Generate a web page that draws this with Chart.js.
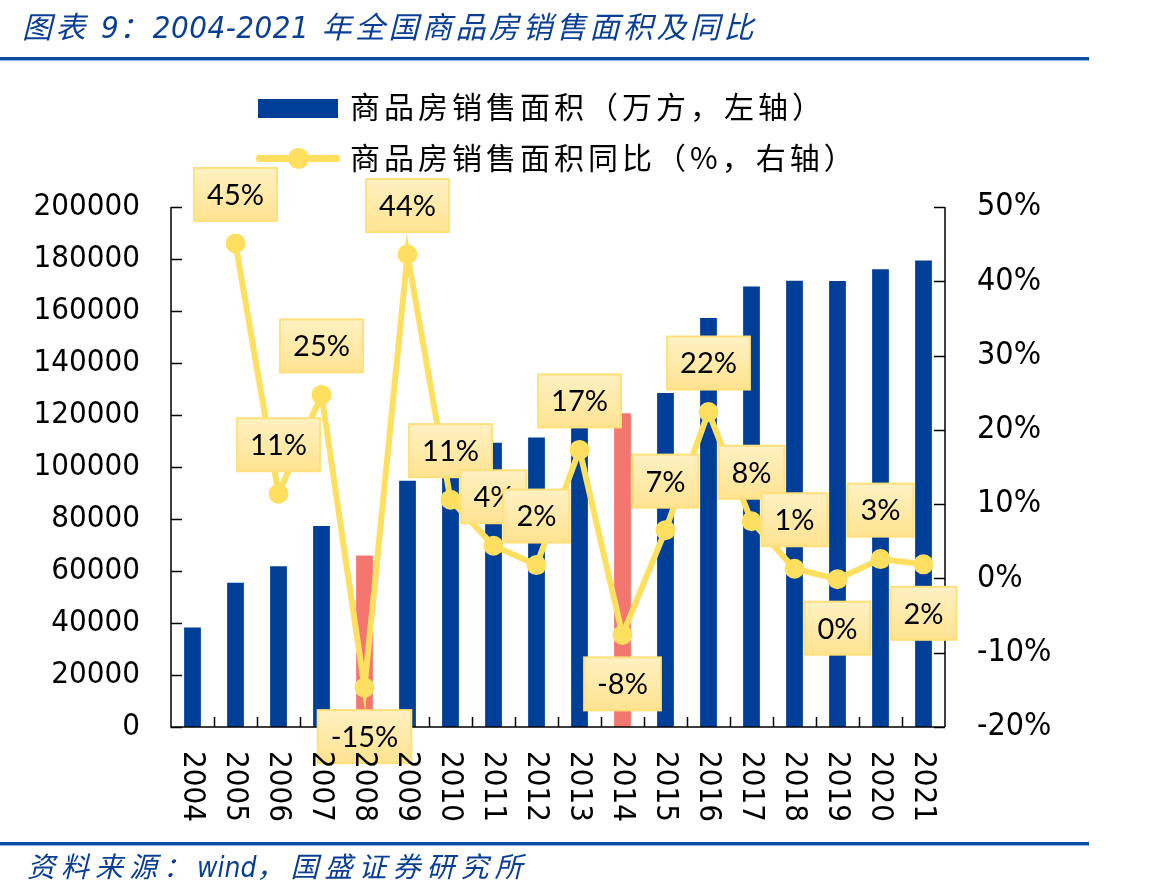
<!DOCTYPE html>
<html>
<head>
<meta charset="utf-8">
<script src="https://cdn.jsdelivr.net/npm/chart.js@4"></script>
<style>
  body { margin: 0; background: #fff; }
  #wrap { position: relative; width: 1170px; height: 895px; overflow: hidden; }
  #wrap canvas { position: absolute; left: 0; top: 0; }
  .title { position: absolute; left: 22px; top: 3px; font: italic 30px "DejaVu Sans Condensed", "Noto Sans CJK SC", sans-serif; color: #0B3F93; letter-spacing: 3.5px; white-space: nowrap; }
  .title .num { letter-spacing: 0.5px; font-size: 31px; }
  .rule { position: absolute; left: 0; width: 1089px; height: 3px; background: #0C4DA2; border-bottom: 1px solid #8FB0DC; }
  .source { position: absolute; left: 27px; top: 845px; font: italic 28px "Noto Sans CJK SC", sans-serif; color: #0B3F93; letter-spacing: 6px; white-space: nowrap; }
  .source .num { letter-spacing: 0; font-family: "DejaVu Sans Condensed", sans-serif; }
  .legend { position: absolute; left: 350px; font: 30px "Noto Sans CJK SC", sans-serif; color: #000; letter-spacing: 4px; white-space: nowrap; line-height: 1; }
  .lg-bar { position: absolute; left: 258px; top: 99px; width: 80px; height: 19px; background: #003F98; }
  .lg-line { position: absolute; left: 256px; top: 155px; width: 84px; height: 7px; background: #FFDF60; border-radius: 3px; }
  .lg-dot { position: absolute; left: 288px; top: 148px; width: 21px; height: 21px; border-radius: 50%; background: #FFDF60; }
</style>
</head>
<body>
<div id="wrap">
  <canvas id="chart" width="1170" height="895"></canvas>
  <div class="title">图表 <span class="num">9</span>：<span class="num">2004-2021</span> 年全国商品房销售面积及同比</div>
  <div class="rule" style="top:57px"></div>
  <div class="lg-bar"></div>
  <div class="legend" style="top:90px">商品房销售面积（万方，左轴）</div>
  <div class="lg-line"></div>
  <div class="lg-dot"></div>
  <div class="legend" style="top:141px">商品房销售面积同比（%，右轴）</div>
  <div class="rule" style="top:842px"></div>
  <div class="source">资料来源：<span class="num">wind</span>，国盛证券研究所</div>
</div>
<script>
// categories
var years = ['2004', '2005', '2006', '2007', '2008', '2009', '2010', '2011', '2012',
             '2013', '2014', '2015', '2016', '2017', '2018', '2019', '2020', '2021'];
// sales area, 10k sqm (left axis)
var salesArea = [38232, 55486, 61857, 77355, 65970, 94755, 104765, 109367, 111304,
                 130551, 120649, 128495, 157349, 169408, 171654, 171558, 176086, 179433];
// year on year, % (right axis)
var yoyValues = [null, 45.1, 11.4, 24.7, -14.7, 43.6, 10.6, 4.4, 1.8,
                 17.3, -7.6, 6.5, 22.4, 7.7, 1.3, -0.1, 2.6, 1.9];
// which side of the point each label sits
var labelSide = ['', 'up', 'up', 'up', 'down', 'up', 'up', 'up', 'up',
                 'up', 'down', 'up', 'up', 'up', 'up', 'down', 'up', 'down'];
// years whose bars are drawn in red
var redYears = ['2008', '2014'];
var leftTicks = [0, 20000, 40000, 60000, 80000, 100000, 120000, 140000, 160000, 180000, 200000];
var rightTicks = [-20, -10, 0, 10, 20, 30, 40, 50];

var blue = '#003F98';
var red = '#F4766F';
var yellow = '#FFDF60';
var tickFont = { family: '"DejaVu Sans Condensed", "DejaVu Sans", sans-serif', size: 31 };

var barColors = years.map(function (y) {
    return redYears.indexOf(y) >= 0 ? red : blue;
});

var overlay = {
    id: 'overlay',
    afterDatasetsDraw: function (chart) {
        var ctx = chart.ctx;
        var area = chart.chartArea;
        var x = chart.scales.x, y = chart.scales.y, y1 = chart.scales.y1;
        ctx.save();

        // axis lines + inward ticks
        ctx.strokeStyle = '#000';
        ctx.lineWidth = 1.5;
        ctx.beginPath();
        ctx.moveTo(area.left, area.top); ctx.lineTo(area.left, area.bottom); ctx.lineTo(area.right, area.bottom);
        ctx.moveTo(area.right, area.top); ctx.lineTo(area.right, area.bottom);
        leftTicks.forEach(function (v) {
            var py = Math.round(y.getPixelForValue(v)) + 0.5;
            ctx.moveTo(area.left, py); ctx.lineTo(area.left + 11, py);
        });
        rightTicks.forEach(function (v) {
            var py = Math.round(y1.getPixelForValue(v)) + 0.5;
            ctx.moveTo(area.right, py); ctx.lineTo(area.right - 11, py);
        });
        for (var i = 1; i < years.length; i++) {
            var px = Math.round((x.getPixelForValue(i - 1) + x.getPixelForValue(i)) / 2) + 0.5;
            ctx.moveTo(px, area.bottom); ctx.lineTo(px, area.bottom - 10);
        }
        ctx.stroke();

        // value boxes
        var meta = chart.getDatasetMeta(1);
        ctx.font = '29px Lato, sans-serif';
        ctx.textAlign = 'center';
        ctx.textBaseline = 'middle';
        meta.data.forEach(function (pt, i) {
            var v = yoyValues[i];
            if (v === null) return;
            var text = Math.round(v) + '%';
            var w = ctx.measureText(text).width + 26, h = 53;
            var cx = pt.x, cy = pt.y + (labelSide[i] === 'down' ? 49 : -49);
            var g = ctx.createLinearGradient(0, cy - h / 2, 0, cy + h / 2);
            g.addColorStop(0, '#FFF1C2');
            g.addColorStop(1, '#FFE391');
            ctx.fillStyle = g;
            ctx.fillRect(cx - w / 2, cy - h / 2, w, h);
            ctx.strokeStyle = '#FFE07A';
            ctx.lineWidth = 2;
            ctx.strokeRect(cx - w / 2, cy - h / 2, w, h);
            ctx.fillStyle = '#000';
            ctx.fillText(text, cx, cy + 1);
        });

        // rotated year labels
        ctx.font = '31px ' + tickFont.family;
        ctx.textAlign = 'left';
        ctx.textBaseline = 'middle';
        years.forEach(function (label, i) {
            ctx.save();
            ctx.translate(x.getPixelForValue(i), area.bottom + 24);
            ctx.rotate(Math.PI / 2);
            ctx.fillText(label, 0, 0);
            ctx.restore();
        });
        ctx.restore();
    }
};

new Chart(document.getElementById('chart'), {
    type: 'bar',
    data: {
        labels: years,
        datasets: [{
            type: 'bar',
            label: '商品房销售面积（万方，左轴）',
            data: salesArea,
            backgroundColor: barColors,
            yAxisID: 'y',
            barPercentage: 0.39,
            categoryPercentage: 1,
            order: 2
        }, {
            type: 'line',
            label: '商品房销售面积同比（%，右轴）',
            data: yoyValues,
            yAxisID: 'y1',
            borderColor: yellow,
            borderWidth: 6,
            pointRadius: 10,
            pointBackgroundColor: yellow,
            pointBorderWidth: 0,
            tension: 0,
            order: 1
        }]
    },
    options: {
        responsive: false,
        animation: false,
        layout: { padding: { top: 207, left: 0, right: 0, bottom: 0 } },
        plugins: { legend: { display: false }, tooltip: { enabled: false } },
        scales: {
            x: {
                offset: true,
                grid: { display: false, drawTicks: false },
                border: { display: false },
                ticks: { display: false },
                afterFit: function (s) { s.height = 168; }
            },
            y: {
                position: 'left',
                min: 0,
                max: 200000,
                grid: { display: false, drawTicks: false },
                border: { display: false },
                ticks: {
                    stepSize: 20000, color: '#000', font: tickFont, padding: 31,
                    callback: function (v) { return String(v); }
                },
                afterFit: function (s) { s.width = 171; }
            },
            y1: {
                position: 'right',
                min: -20,
                max: 50,
                grid: { display: false, drawTicks: false },
                border: { display: false },
                ticks: {
                    stepSize: 10, color: '#000', font: { family: tickFont.family, size: 32 }, padding: 32,
                    callback: function (v) { return v + '%'; }
                },
                afterFit: function (s) { s.width = 225; }
            }
        }
    },
    plugins: [overlay]
});
</script>
</body>
</html>
